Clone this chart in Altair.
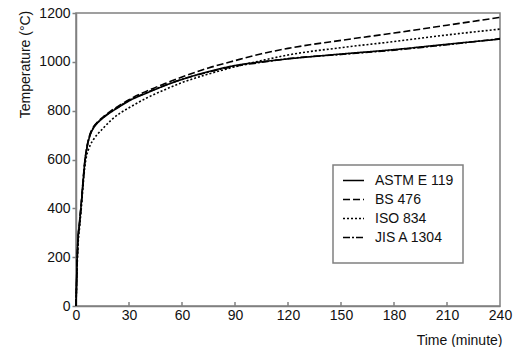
import altair as alt
import pandas as pd

# ---- data ----
time_min = [0, 1, 2, 3, 4, 5, 6, 7, 8, 10, 12, 15, 20, 25, 30, 40, 50, 60, 75, 90, 105, 120, 150, 180, 210, 240]
astm_e119 = [0, 260, 340, 420, 510, 590, 640, 675, 700, 730, 748, 768, 795, 818, 840, 872, 902, 928, 960, 985, 1000, 1012, 1032, 1050, 1072, 1093]
bs_476 = [0, 255, 345, 425, 515, 595, 645, 680, 705, 735, 752, 772, 800, 823, 845, 880, 910, 938, 975, 1005, 1033, 1055, 1088, 1118, 1150, 1182]
iso_834 = [0, 230, 320, 400, 490, 570, 615, 640, 658, 683, 702, 725, 762, 790, 812, 852, 885, 915, 950, 980, 1005, 1028, 1058, 1083, 1110, 1134]
jis_a1304 = [0, 250, 335, 415, 505, 588, 640, 678, 702, 732, 750, 770, 797, 820, 842, 874, 903, 928, 958, 982, 998, 1013, 1030, 1048, 1070, 1095]
series_names = ["ASTM E 119", "BS 476", "ISO 834", "JIS A 1304"]
x_ticks = [0, 30, 60, 90, 120, 150, 180, 210, 240]
y_ticks = [0, 200, 400, 600, 800, 1000, 1200]

rows = []
for name, vals in zip(series_names, [astm_e119, bs_476, iso_834, jis_a1304]):
    for t, v in zip(time_min, vals):
        rows.append({"time": t, "temp": v, "series": name})
df = pd.DataFrame(rows)
ticks_df = pd.DataFrame({"time": x_ticks[1:-1]})
box_df = pd.DataFrame({"k": [0]})

W, H = 424, 293
FONT = "Liberation Sans"
GRAY = "#808080"

xscale = alt.Scale(domain=[0, 240], nice=False)
yscale = alt.Scale(domain=[0, 1200], nice=False)
xaxis = alt.Axis(values=x_ticks, ticks=False, tickSize=0, labelPadding=2, format="d",
                 labelFlush=False,
                 title="Time (minute)", titleAlign="right", titleX=W + 2,
                 titleY=34, titleBaseline="middle")

lines = alt.Chart(df).mark_line(color="black", strokeWidth=1.6, interpolate="monotone").encode(
    x=alt.X("time:Q", scale=xscale, axis=xaxis),
    y=alt.Y("temp:Q", scale=yscale,
            axis=alt.Axis(values=y_ticks, tickSize=4, labelPadding=2, format="d",
                          labelFlush=False,
                          title="Temperature (°C)", titleAngle=-90, titleX=-51, titleY=51,
                          titleAlign="center", titleBaseline="middle")),
    strokeDash=alt.StrokeDash(
        "series:N",
        scale=alt.Scale(domain=series_names, range=[[1, 0], [7, 3], [2, 2], [7, 2, 2, 2]]),
        legend=alt.Legend(title=None, orient="none", legendX=266, legendY=156,
                          symbolType="stroke", symbolSize=441, symbolStrokeWidth=1.5,
                          symbolStrokeColor="black", labelFontSize=14, labelFont=FONT,
                          labelColor="#111", labelOffset=10, padding=0, rowPadding=0),
    ),
)

inner_ticks = alt.Chart(ticks_df).mark_rule(color=GRAY, strokeWidth=1.5).encode(
    x=alt.X("time:Q", scale=xscale, axis=xaxis),
    y=alt.value(H),
    y2=alt.value(H - 4),
)

legend_box = alt.Chart(box_df).mark_rect(fillOpacity=0, stroke=GRAY, strokeWidth=1.5).encode(
    x=alt.value(257), x2=alt.value(387), y=alt.value(152), y2=alt.value(250),
)

chart = alt.layer(lines, inner_ticks, legend_box).properties(
    width=W, height=H,
    padding={"left": 76, "top": 13, "right": 15, "bottom": 41},
    autosize=alt.AutoSizeParams(type="none"),
    background="white",
).configure_view(
    stroke=GRAY, strokeWidth=1.5
).configure_axis(
    domainColor=GRAY, domainWidth=1.5, tickColor=GRAY, tickWidth=1.5,
    labelColor="#111", labelFont=FONT, labelFontSize=14,
    titleFont=FONT, titleFontSize=14, titleFontWeight="normal", titleColor="#111",
    grid=False,
)

chart.save("out.html", embed_options={"renderer": "svg", "actions": False})
